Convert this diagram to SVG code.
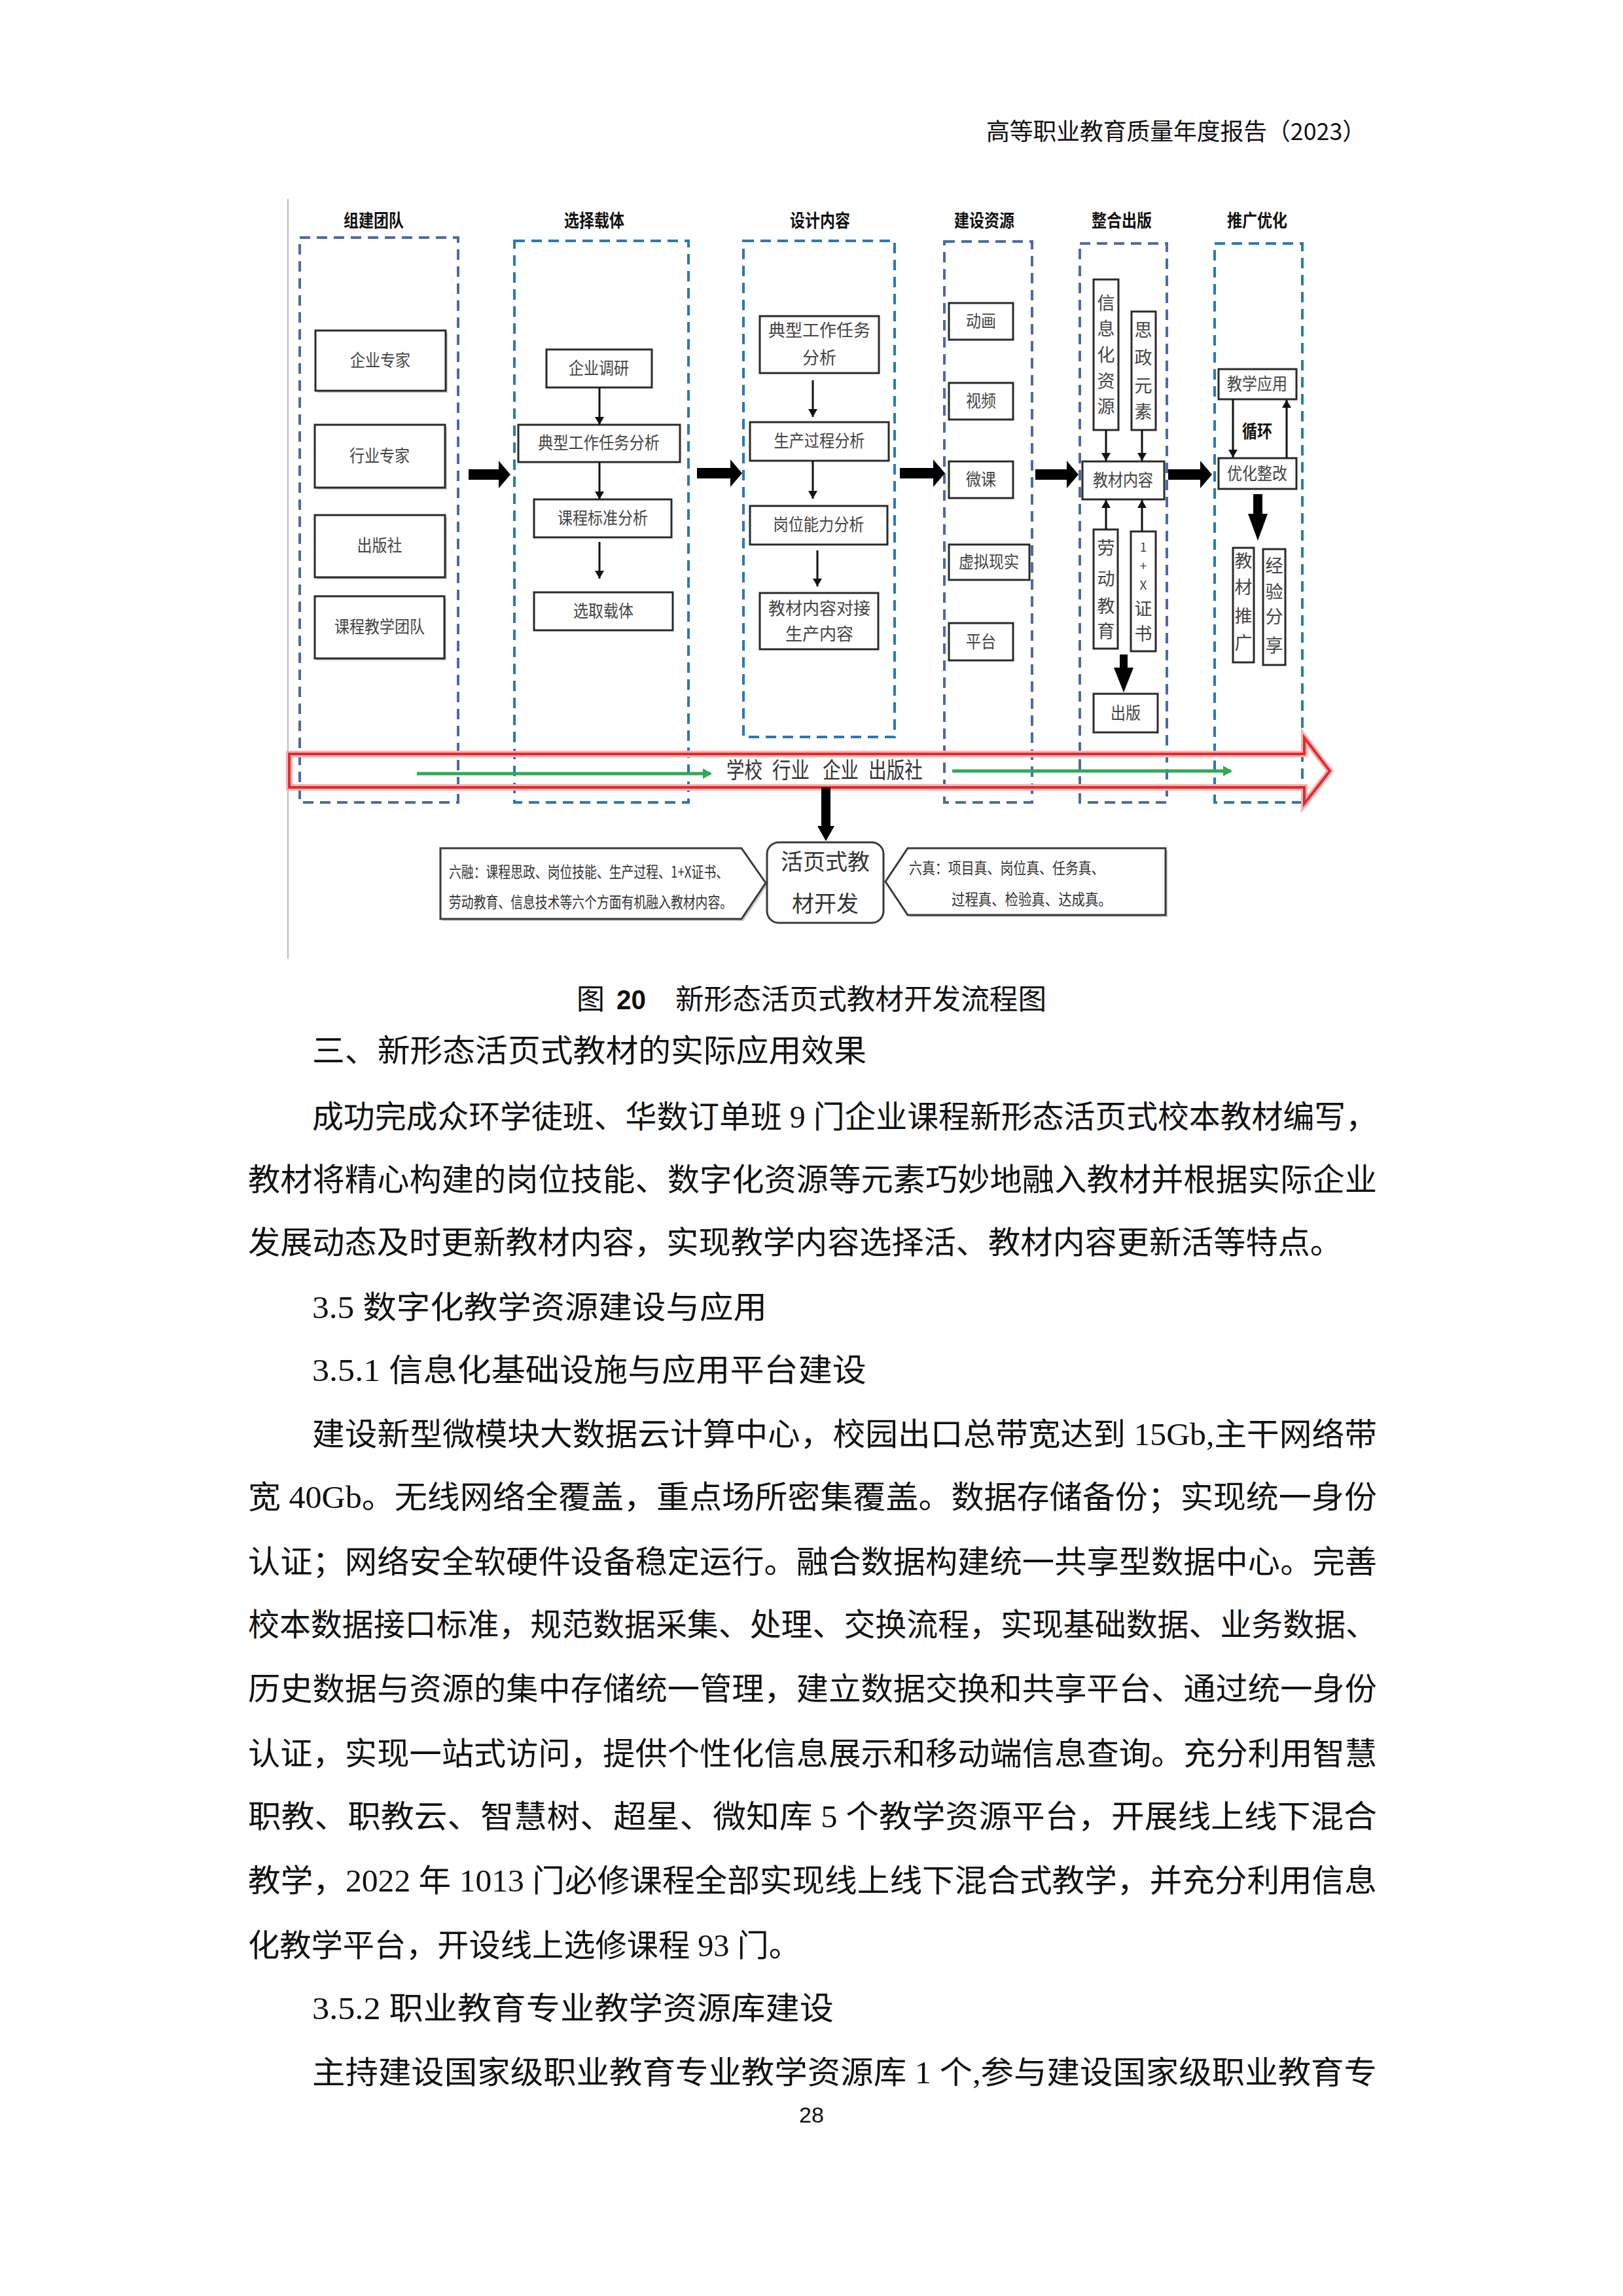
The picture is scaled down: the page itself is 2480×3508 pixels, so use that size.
<svg xmlns="http://www.w3.org/2000/svg" width="2480" height="3508" viewBox="0 0 2480 3508">
<defs>
<style>
.col{fill:none;stroke-width:4;stroke-dasharray:16 10}
.c1{stroke:#4a6aa8}
.c2{stroke:#2a78b8}
.box{fill:#fff;stroke:#2a2a2a;stroke-width:3}
.shadow{fill:#c8c8c8}
.lbl{font-family:"Noto Sans CJK SC","Noto Sans",sans-serif;font-size:26px;fill:#444;text-anchor:middle}
.ttl{font-family:"Noto Sans CJK SC","Noto Sans",sans-serif;font-size:27px;font-weight:bold;fill:#111;text-anchor:middle}
.vt{font-family:"Noto Sans CJK SC","Noto Sans",sans-serif;font-size:27px;fill:#444;text-anchor:middle}
.thin{stroke:#111;stroke-width:3;fill:none}
.blk{fill:#000}
.grn{stroke:#2faa55;stroke-width:5;fill:none}
.body{font-family:"Liberation Serif","Noto Sans CJK SC",serif;font-size:48px;fill:#111}
.band{font-family:"Noto Sans CJK SC","Noto Sans",sans-serif;font-size:34px;fill:#333}
.note{font-family:"Noto Sans CJK SC","Noto Sans",sans-serif;font-size:24px;fill:#333}
</style>
<marker id="ah" viewBox="0 0 12 14" refX="12" refY="7" markerWidth="12" markerHeight="14" markerUnits="userSpaceOnUse" orient="auto">
<path d="M0,0 L12,7 L0,14 Z" fill="#111"/>
</marker>
<marker id="gh" viewBox="0 0 14 16" refX="12" refY="8" markerWidth="14" markerHeight="16" markerUnits="userSpaceOnUse" orient="auto">
<path d="M0,0 L14,8 L0,16 Z" fill="#2faa55"/>
</marker>
</defs>
<rect x="0" y="0" width="2480" height="3508" fill="#fff"/>

<!-- header -->
<text x="1507" y="214" font-family="'Noto Sans CJK SC','Liberation Sans',sans-serif" font-size="36" fill="#111" textLength="580" lengthAdjust="spacingAndGlyphs">高等职业教育质量年度报告（2023）</text>

<!-- page left rule -->
<line x1="440" y1="304" x2="440" y2="1465" stroke="#bdbdbd" stroke-width="2"/>

<!-- column titles -->
<g id="titles">
<text class="ttl" x="571" y="347" textLength="92" lengthAdjust="spacingAndGlyphs">组建团队</text>
<text class="ttl" x="908" y="347" textLength="92" lengthAdjust="spacingAndGlyphs">选择载体</text>
<text class="ttl" x="1253" y="347" textLength="92" lengthAdjust="spacingAndGlyphs">设计内容</text>
<text class="ttl" x="1504" y="347" textLength="92" lengthAdjust="spacingAndGlyphs">建设资源</text>
<text class="ttl" x="1714" y="347" textLength="92" lengthAdjust="spacingAndGlyphs">整合出版</text>
<text class="ttl" x="1921" y="347" textLength="92" lengthAdjust="spacingAndGlyphs">推广优化</text>
</g>

<!-- dashed stage frames -->
<g id="frames">
<rect id="frame-team" class="col c1" x="458" y="363" width="242" height="863"/>
<rect id="frame-carrier" class="col c2" x="786" y="368" width="266" height="858"/>
<rect id="frame-content" class="col c2" x="1136" y="368" width="231" height="758"/>
<rect id="frame-resource" class="col c1" x="1443" y="369" width="134" height="857"/>
<rect id="frame-publish" class="col c1" x="1650" y="372" width="133" height="854"/>
<rect id="frame-promote" class="col c2" x="1856" y="372" width="134" height="854"/>
</g>

<!-- column 1 -->
<g id="n-qyzj"><rect class="shadow" x="485" y="508" width="199" height="92"/><rect class="box" x="482" y="505" width="199" height="92"/><text class="lbl" x="581" y="560" textLength="92" lengthAdjust="spacingAndGlyphs">企业专家</text></g>
<g id="n-hyzj"><rect class="shadow" x="484" y="652" width="199" height="96"/><rect class="box" x="481" y="649" width="199" height="96"/><text class="lbl" x="580" y="706" textLength="92" lengthAdjust="spacingAndGlyphs">行业专家</text></g>
<g id="n-cbs"><rect class="shadow" x="484" y="790" width="199" height="95"/><rect class="box" x="481" y="787" width="199" height="95"/><text class="lbl" x="580" y="843" textLength="69" lengthAdjust="spacingAndGlyphs">出版社</text></g>
<g id="n-kcjxtd"><rect class="shadow" x="484" y="914" width="198" height="95"/><rect class="box" x="481" y="911" width="198" height="95"/><text class="lbl" x="580" y="967" textLength="138" lengthAdjust="spacingAndGlyphs">课程教学团队</text></g>

<!-- column 2 -->
<g id="n-qydy"><rect class="box" x="835" y="534" width="161" height="58"/><text class="lbl" x="915" y="572" textLength="92" lengthAdjust="spacingAndGlyphs">企业调研</text></g>
<g id="n-dxgz1"><rect class="box" x="792" y="649" width="247" height="57"/><text class="lbl" x="915" y="686" textLength="186" lengthAdjust="spacingAndGlyphs">典型工作任务分析</text></g>
<g id="n-kcbz"><rect class="box" x="816" y="763" width="210" height="58"/><text class="lbl" x="921" y="801" textLength="138" lengthAdjust="spacingAndGlyphs">课程标准分析</text></g>
<g id="n-xqzt"><rect class="box" x="816" y="905" width="212" height="58"/><text class="lbl" x="922" y="943" textLength="92" lengthAdjust="spacingAndGlyphs">选取载体</text></g>

<!-- column 3 -->
<g id="n-dxgz2"><rect class="box" x="1161" y="483" width="182" height="87"/><text class="lbl"><tspan x="1252" y="514">典型工作任务</tspan><tspan x="1252" y="556">分析</tspan></text></g>
<g id="n-scgc"><rect class="box" x="1146" y="645" width="212" height="59"/><text class="lbl" x="1252" y="683" textLength="139" lengthAdjust="spacingAndGlyphs">生产过程分析</text></g>
<g id="n-gwnl"><rect class="box" x="1146" y="773" width="210" height="59"/><text class="lbl" x="1251" y="811" textLength="139" lengthAdjust="spacingAndGlyphs">岗位能力分析</text></g>
<g id="n-jcnr-dj"><rect class="box" x="1161" y="906" width="181" height="86"/><text class="lbl"><tspan x="1252" y="939">教材内容对接</tspan><tspan x="1252" y="978">生产内容</tspan></text></g>

<!-- column 4 -->
<g id="n-dh"><rect class="box" x="1450" y="463" width="98" height="56"/><text class="lbl" x="1499" y="500" textLength="46" lengthAdjust="spacingAndGlyphs">动画</text></g>
<g id="n-sp"><rect class="box" x="1450" y="585" width="98" height="56"/><text class="lbl" x="1499" y="622" textLength="46" lengthAdjust="spacingAndGlyphs">视频</text></g>
<g id="n-wk"><rect class="box" x="1450" y="705" width="98" height="56"/><text class="lbl" x="1499" y="742" textLength="46" lengthAdjust="spacingAndGlyphs">微课</text></g>
<g id="n-xnxs"><rect class="box" x="1450" y="832" width="123" height="54"/><text class="lbl" x="1511" y="868" textLength="92" lengthAdjust="spacingAndGlyphs">虚拟现实</text></g>
<g id="n-pt"><rect class="box" x="1450" y="952" width="98" height="57"/><text class="lbl" x="1499" y="990" textLength="46" lengthAdjust="spacingAndGlyphs">平台</text></g>

<!-- column 5 -->
<g id="n-xxhzy"><rect class="box" x="1671" y="427" width="38" height="230"/>
<text class="vt"><tspan x="1690" y="473">信</tspan><tspan x="1690" y="512">息</tspan><tspan x="1690" y="552">化</tspan><tspan x="1690" y="592">资</tspan><tspan x="1690" y="631">源</tspan></text></g>
<g id="n-szys"><rect class="box" x="1729" y="476" width="37" height="181"/>
<text class="vt"><tspan x="1747" y="514">思</tspan><tspan x="1747" y="556">政</tspan><tspan x="1747" y="599">元</tspan><tspan x="1747" y="639">素</tspan></text></g>
<g id="n-jcnr"><rect class="box" x="1654" y="705" width="125" height="58"/><text class="lbl" x="1716" y="743" textLength="92" lengthAdjust="spacingAndGlyphs">教材内容</text></g>
<g id="n-ldjy"><rect class="box" x="1671" y="809" width="37" height="182"/>
<text class="vt"><tspan x="1690" y="847">劳</tspan><tspan x="1690" y="894">动</tspan><tspan x="1690" y="936">教</tspan><tspan x="1690" y="974">育</tspan></text></g>
<g id="n-1xzs"><rect class="box" x="1728" y="812" width="38" height="183"/>
<text class="vt"><tspan x="1747" y="843" font-size="19">1</tspan><tspan x="1747" y="872" font-size="19">+</tspan><tspan x="1747" y="901" font-size="19">X</tspan><tspan x="1747" y="940">证</tspan><tspan x="1747" y="978">书</tspan></text></g>
<g id="n-cb"><rect class="box" x="1671" y="1060" width="98" height="59"/><text class="lbl" x="1720" y="1099" textLength="46" lengthAdjust="spacingAndGlyphs">出版</text></g>

<!-- column 6 -->
<g id="n-jxyy"><rect class="box" x="1862" y="564" width="119" height="46"/><text class="lbl" x="1921" y="596" textLength="92" lengthAdjust="spacingAndGlyphs">教学应用</text></g>
<g id="n-xh"><text class="ttl" x="1921" y="669" textLength="46" lengthAdjust="spacingAndGlyphs">循环</text></g>
<g id="n-yhzg"><rect class="box" x="1862" y="700" width="119" height="47"/><text class="lbl" x="1921" y="733" textLength="92" lengthAdjust="spacingAndGlyphs">优化整改</text></g>
<g id="n-jctg"><rect class="box" x="1884" y="837" width="32" height="175"/>
<text class="vt"><tspan x="1900" y="867">教</tspan><tspan x="1900" y="907">材</tspan><tspan x="1900" y="951">推</tspan><tspan x="1900" y="992">广</tspan></text></g>
<g id="n-jyfx"><rect class="box" x="1930" y="839" width="34" height="177"/>
<text class="vt"><tspan x="1947" y="874">经</tspan><tspan x="1947" y="914">验</tspan><tspan x="1947" y="952">分</tspan><tspan x="1947" y="996">享</tspan></text></g>

<!-- bottom nodes -->
<g id="n-liurong">
<polygon points="676,1299 1136,1299 1173,1352 1136,1407 676,1407" fill="#c8c8c8"/>
<polygon points="673,1296 1133,1296 1170,1349 1133,1404 673,1404" fill="#fff" stroke="#3a3a3a" stroke-width="3"/>
<text class="note" transform="translate(686,1341) scale(0.785,1)" x="0" y="0">六融：课程思政、岗位技能、生产过程、1+X证书、</text>
<text class="note" transform="translate(686,1387) scale(0.785,1)" x="0" y="0">劳动教育、信息技术等六个方面有机融入教材内容。</text>
</g>
<g id="n-hys">
<rect x="1172" y="1287" width="178" height="123" rx="18" ry="18" fill="#fff" stroke="#3a3a3a" stroke-width="3"/>
<text font-family="'Noto Sans CJK SC',sans-serif" font-size="34" fill="#333" text-anchor="middle"><tspan x="1261" y="1329">活页式教</tspan><tspan x="1261" y="1393">材开发</tspan></text>
</g>
<g id="n-liuzhen">
<polygon points="1390,1299 1784,1299 1784,1401 1390,1401 1356,1350" fill="#c8c8c8"/>
<polygon points="1387,1296 1781,1296 1781,1398 1387,1398 1353,1347" fill="#fff" stroke="#3a3a3a" stroke-width="3"/>
<text class="note" transform="translate(1389,1335) scale(0.83,1)" x="0" y="0" font-size="26">六真：项目真、岗位真、任务真、</text>
<text class="note" transform="translate(1454,1383) scale(0.85,1)" x="0" y="0" font-size="26">过程真、检验真、达成真。</text>
</g>

<!-- connectors -->
<g id="connectors">
<path class="blk" d="M716,717 L762,717 L762,704 L780,725 L762,746 L762,733 L716,733 Z"/>
<path class="blk" d="M1065,715 L1116,715 L1116,702 L1134,723 L1116,744 L1116,731 L1065,731 Z"/>
<path class="blk" d="M1375,715 L1426,715 L1426,702 L1444,723 L1426,744 L1426,731 L1375,731 Z"/>
<path class="blk" d="M1582,717 L1630,717 L1630,704 L1648,725 L1630,746 L1630,733 L1582,733 Z"/>
<path class="blk" d="M1785,717 L1834,717 L1834,704 L1852,725 L1834,746 L1834,733 L1785,733 Z"/>
<line class="thin" x1="916" y1="592" x2="916" y2="649" marker-end="url(#ah)"/>
<line class="thin" x1="916" y1="706" x2="916" y2="763" marker-end="url(#ah)"/>
<line class="thin" x1="916" y1="828" x2="916" y2="884" marker-end="url(#ah)"/>
<line class="thin" x1="1242" y1="581" x2="1242" y2="637" marker-end="url(#ah)"/>
<line class="thin" x1="1242" y1="704" x2="1242" y2="762" marker-end="url(#ah)"/>
<line class="thin" x1="1249" y1="841" x2="1249" y2="896" marker-end="url(#ah)"/>
<line class="thin" x1="1690" y1="657" x2="1690" y2="704" marker-end="url(#ah)"/>
<line class="thin" x1="1745" y1="657" x2="1745" y2="704" marker-end="url(#ah)"/>
<line class="thin" x1="1690" y1="809" x2="1690" y2="764" marker-end="url(#ah)"/>
<line class="thin" x1="1745" y1="812" x2="1745" y2="764" marker-end="url(#ah)"/>
<path class="blk" d="M1711,1000 L1723,1000 L1723,1020 L1732,1020 L1717,1058 L1702,1020 L1711,1020 Z"/>
<line class="thin" x1="1884" y1="610" x2="1884" y2="699" marker-end="url(#ah)"/>
<line class="thin" x1="1966" y1="700" x2="1966" y2="611" marker-end="url(#ah)"/>
<path class="blk" d="M1915,755 L1929,755 L1929,785 L1937,785 L1922,826 L1907,785 L1915,785 Z"/>
<path d="M442,1152 L1993,1152 L1993,1127 L2032,1178 L1993,1228 L1993,1203 L442,1203 Z" fill="none" stroke="#f6b3b3" stroke-width="10" stroke-linejoin="miter"/>
<path d="M442,1152 L1993,1152 L1993,1127 L2032,1178 L1993,1228 L1993,1203 L442,1203 Z" fill="none" stroke="#e42a2d" stroke-width="4" stroke-linejoin="miter"/>
<line class="grn" x1="637" y1="1182" x2="1086" y2="1182" marker-end="url(#gh)"/>
<line class="grn" x1="1455" y1="1178" x2="1881" y2="1178" marker-end="url(#gh)"/>
<path class="blk" d="M1255,1203 L1269,1203 L1269,1262 L1275,1262 L1262,1285 L1249,1262 L1255,1262 Z"/>
</g>
<g id="band-label">
<text class="band" x="1110" y="1189" textLength="55" lengthAdjust="spacingAndGlyphs">学校</text>
<text class="band" x="1180" y="1189" textLength="57" lengthAdjust="spacingAndGlyphs">行业</text>
<text class="band" x="1257" y="1189" textLength="55" lengthAdjust="spacingAndGlyphs">企业</text>
<text class="band" x="1327" y="1189" textLength="83" lengthAdjust="spacingAndGlyphs">出版社</text>
</g>

<!-- caption -->
<g id="caption" font-family="'Noto Sans CJK SC','Liberation Sans',sans-serif" font-size="43" fill="#111">
<text x="881" y="1542">图</text>
<text x="942" y="1542" font-family="'Liberation Sans',sans-serif" font-weight="bold" textLength="45" lengthAdjust="spacingAndGlyphs">20</text>
<text x="1032" y="1542" textLength="567" lengthAdjust="spacingAndGlyphs">新形态活页式教材开发流程图</text>
</g>

<!-- body text -->
<g id="body" class="body">
<text x="477" y="1622" textLength="847" lengthAdjust="spacingAndGlyphs">三、新形态活页式教材的实际应用效果</text>
<text x="477" y="1723" textLength="1627" lengthAdjust="spacingAndGlyphs">成功完成众环学徒班、华数订单班 9 门企业课程新形态活页式校本教材编写，</text>
<text x="379" y="1819" textLength="1725" lengthAdjust="spacingAndGlyphs">教材将精心构建的岗位技能、数字化资源等元素巧妙地融入教材并根据实际企业</text>
<text x="379" y="1915" textLength="1672" lengthAdjust="spacingAndGlyphs">发展动态及时更新教材内容，实现教学内容选择活、教材内容更新活等特点。</text>
<text x="477" y="2014" textLength="695" lengthAdjust="spacingAndGlyphs">3.5 数字化教学资源建设与应用</text>
<text x="477" y="2110" textLength="847" lengthAdjust="spacingAndGlyphs">3.5.1 信息化基础设施与应用平台建设</text>
<text x="477" y="2208" textLength="1627" lengthAdjust="spacingAndGlyphs">建设新型微模块大数据云计算中心，校园出口总带宽达到 15Gb,主干网络带</text>
<text x="379" y="2304" textLength="1725" lengthAdjust="spacingAndGlyphs">宽 40Gb。无线网络全覆盖，重点场所密集覆盖。数据存储备份；实现统一身份</text>
<text x="379" y="2403" textLength="1725" lengthAdjust="spacingAndGlyphs">认证；网络安全软硬件设备稳定运行。融合数据构建统一共享型数据中心。完善</text>
<text x="379" y="2499" textLength="1725" lengthAdjust="spacingAndGlyphs">校本数据接口标准，规范数据采集、处理、交换流程，实现基础数据、业务数据、</text>
<text x="379" y="2597" textLength="1725" lengthAdjust="spacingAndGlyphs">历史数据与资源的集中存储统一管理，建立数据交换和共享平台、通过统一身份</text>
<text x="379" y="2696" textLength="1725" lengthAdjust="spacingAndGlyphs">认证，实现一站式访问，提供个性化信息展示和移动端信息查询。充分利用智慧</text>
<text x="379" y="2792" textLength="1725" lengthAdjust="spacingAndGlyphs">职教、职教云、智慧树、超星、微知库 5 个教学资源平台，开展线上线下混合</text>
<text x="379" y="2890" textLength="1725" lengthAdjust="spacingAndGlyphs">教学，2022 年 1013 门必修课程全部实现线上线下混合式教学，并充分利用信息</text>
<text x="379" y="2989" textLength="844" lengthAdjust="spacingAndGlyphs">化教学平台，开设线上选修课程 93 门。</text>
<text x="477" y="3085" textLength="797" lengthAdjust="spacingAndGlyphs">3.5.2 职业教育专业教学资源库建设</text>
<text x="477" y="3183" textLength="1627" lengthAdjust="spacingAndGlyphs">主持建设国家级职业教育专业教学资源库 1 个,参与建设国家级职业教育专</text>
</g>
<text x="1240" y="3243" font-family="'Liberation Sans',sans-serif" font-size="34" fill="#111" text-anchor="middle">28</text>
</svg>
